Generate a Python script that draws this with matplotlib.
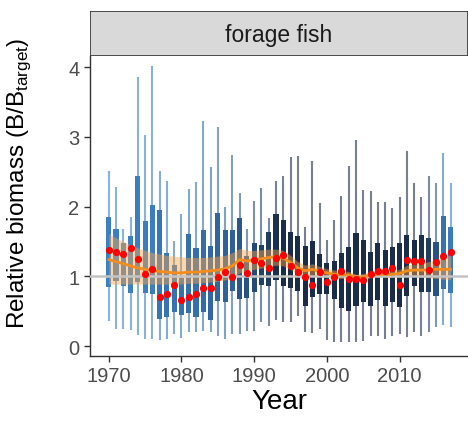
import matplotlib
matplotlib.use("Agg")
import matplotlib.pyplot as plt
from matplotlib.colors import LinearSegmentedColormap, Normalize
from matplotlib.patches import Rectangle
import numpy as np

plt.rcParams['font.family'] = ['Liberation Sans', 'DejaVu Sans']

years = np.arange(1970, 2018)

# whisker and box limits per year (relative biomass)
whisk_lo = [0.36, 0.24, 0.24, 0.23, 0.16, 0.10, 0.10, 0.09, 0.10, 0.17,
            0.12, 0.20, 0.20, 0.22, 0.20, 0.14, 0.10, 0.17, 0.17, 0.22,
            0.22, 0.34, 0.29, 0.37, 0.34, 0.34, 0.43, 0.20, 0.19, 0.24,
            0.09, 0.06, 0.06, 0.06, 0.06, 0.07, 0.14, 0.14, 0.10, 0.14,
            0.17, 0.13, 0.20, 0.14, 0.20, 0.27, 0.30, 0.27]
box_lo = [0.85, 0.93, 0.86, 0.76, 0.92, 0.76, 0.75, 0.39, 0.42, 0.49,
          0.45, 0.47, 0.42, 0.49, 0.37, 0.65, 0.63, 0.79, 0.67, 0.69,
          0.77, 0.87, 0.86, 0.95, 0.86, 0.83, 0.79, 0.57, 0.70, 0.75,
          0.75, 0.67, 0.54, 0.50, 0.57, 0.63, 0.57, 0.66, 0.57, 0.63,
          0.56, 0.72, 0.86, 0.77, 0.77, 0.72, 0.82, 0.76]
box_hi = [1.85, 1.68, 1.48, 1.58, 2.44, 1.79, 2.02, 1.95, 1.33, 1.16,
          0.97, 1.61, 1.40, 1.66, 1.43, 1.91, 1.66, 1.66, 1.83, 1.29,
          1.48, 1.45, 1.63, 1.89, 1.81, 1.63, 1.58, 1.43, 1.51, 1.32,
          1.19, 1.22, 1.33, 1.42, 1.62, 1.52, 1.35, 1.48, 1.38, 1.42,
          1.48, 1.59, 1.52, 1.59, 1.55, 1.49, 1.86, 1.71]
whisk_hi = [2.51, 2.28, 1.68, 1.85, 3.86, 3.02, 4.01, 2.51, 2.37, 1.51,
            1.89, 2.25, 2.35, 3.23, 2.57, 3.14, 1.99, 2.74, 2.19, 1.68,
            2.08, 2.27, 1.83, 2.37, 2.44, 2.71, 2.72, 1.71, 2.65, 2.05,
            1.52, 1.81, 2.15, 2.58, 2.95, 2.24, 2.22, 2.06, 2.06, 1.98,
            2.14, 2.80, 2.34, 2.14, 2.44, 2.34, 2.77, 2.34]

# observed index (red dots)
observed = [1.38, 1.35, 1.32, 1.40, 1.25, 1.03, 1.10, 0.71, 0.74, 0.87,
            0.66, 0.70, 0.74, 0.84, 0.83, 0.99, 1.06, 0.99, 1.16, 1.05,
            1.23, 1.19, 1.12, 1.26, 1.30, 1.15, 1.06, 0.99, 0.87, 1.06,
            0.92, 0.99, 1.08, 0.96, 0.96, 0.95, 1.03, 1.08, 1.08, 1.12,
            0.87, 1.23, 1.22, 1.22, 1.09, 1.20, 1.29, 1.35]

# smoothed median and its band (orange)
median = [1.24, 1.21, 1.18, 1.15, 1.12, 1.10, 1.08, 1.07, 1.06, 1.05,
          1.05, 1.06, 1.06, 1.07, 1.08, 1.09, 1.11, 1.15, 1.24, 1.22,
          1.24, 1.25, 1.27, 1.28, 1.26, 1.20, 1.12, 1.08, 1.10, 1.07,
          1.05, 1.03, 1.02, 1.02, 0.99, 0.99, 1.02, 1.03, 1.03, 1.03,
          1.04, 1.08, 1.09, 1.09, 1.09, 1.10, 1.10, 1.10]
band_lo = [0.89, 0.89, 0.89, 0.89, 0.89, 0.89, 0.89, 0.89, 0.89, 0.89,
           0.89, 0.90, 0.90, 0.91, 0.92, 0.93, 0.95, 0.98, 1.05, 1.08,
           1.10, 1.12, 1.14, 1.16, 1.15, 1.10, 1.03, 1.00, 1.02, 1.00,
           0.98, 0.97, 0.97, 0.97, 0.94, 0.95, 0.98, 0.99, 0.99, 0.99,
           0.99, 1.00, 1.00, 0.99, 0.98, 0.97, 0.96, 0.95]
band_hi = [1.61, 1.55, 1.50, 1.45, 1.41, 1.37, 1.34, 1.32, 1.30, 1.29,
           1.28, 1.27, 1.27, 1.27, 1.28, 1.29, 1.30, 1.34, 1.40, 1.37,
           1.37, 1.38, 1.39, 1.39, 1.37, 1.30, 1.21, 1.16, 1.18, 1.14,
           1.11, 1.09, 1.08, 1.07, 1.03, 1.04, 1.07, 1.08, 1.08, 1.08,
           1.10, 1.16, 1.18, 1.19, 1.21, 1.24, 1.28, 1.30]

# number of stocks contributing each year (drives box shade)
n_stocks = [4, 4, 4, 4, 5, 5, 5, 8, 8, 9,
            9, 10, 10, 11, 13, 14, 15, 16, 18, 19,
            21, 23, 24, 27, 28, 28, 28, 28, 28, 28,
            28, 28, 28, 28, 28, 28, 28, 28, 28, 28,
            28, 28, 28, 27, 24, 19, 9, 6]

cmap = LinearSegmentedColormap.from_list('stocks', ['#3c80c4', '#2d5f98', '#1b2c48'])
norm = Normalize(vmin=4, vmax=28)
colors = [cmap(norm(n)) for n in n_stocks]

fig = plt.figure(figsize=(4.68, 4.31), dpi=100)
ax = fig.add_axes([0.192, 0.172, 0.808, 0.696])

lo = np.array(box_lo)
hi = np.array(box_hi)
ax.vlines(years, whisk_lo, whisk_hi, colors=colors, linewidth=1.5, alpha=0.6, zorder=1)
ax.bar(years, hi - lo, bottom=lo, width=0.7, color=colors, linewidth=0, zorder=2)
ax.fill_between(years, band_lo, band_hi, color='#f7a54a', alpha=0.45, linewidth=0, zorder=3)
ax.axhline(1, color='#c4c4c4', linewidth=1.8, zorder=4)
ax.plot(years, median, color='#f28c1c', linewidth=2, zorder=5)
ax.plot(years, observed, 'o', color='#ff0000', markersize=5.2, markeredgewidth=0, zorder=6)

ax.set_xlim(1967.4, 2019.4)
ax.set_ylim(-0.14, 4.16)
ax.set_xticks([1970, 1980, 1990, 2000, 2010])
ax.set_yticks([0, 1, 2, 3, 4])
ax.tick_params(axis='both', labelsize=14.5, colors='#333333', labelcolor='#4d4d4d',
               length=4, width=1)
for side in ['top', 'right']:
    ax.spines[side].set_visible(False)
for side in ['left', 'bottom']:
    ax.spines[side].set_color('#333333')
    ax.spines[side].set_linewidth(1)

ax.set_xlabel('Year', fontsize=20, labelpad=2)
ax.set_ylabel(r'Relative biomass (B/B$_{\mathregular{target}}$)', fontsize=17.5)
ax.yaxis.set_label_coords(-0.15, 0.58)

# facet strip
strip = fig.add_axes([0.192, 0.868, 0.808, 0.104])
strip.add_patch(Rectangle((0, 0), 1, 1, transform=strip.transAxes,
                          facecolor='#d9d9d9', edgecolor='#333333', linewidth=1.2))
strip.set_xticks([])
strip.set_yticks([])
for s in strip.spines.values():
    s.set_visible(False)
strip.text(0.5, 0.47, 'forage fish', ha='center', va='center', fontsize=16.5, color='#1a1a1a')

fig.savefig('out.png', dpi=100)
